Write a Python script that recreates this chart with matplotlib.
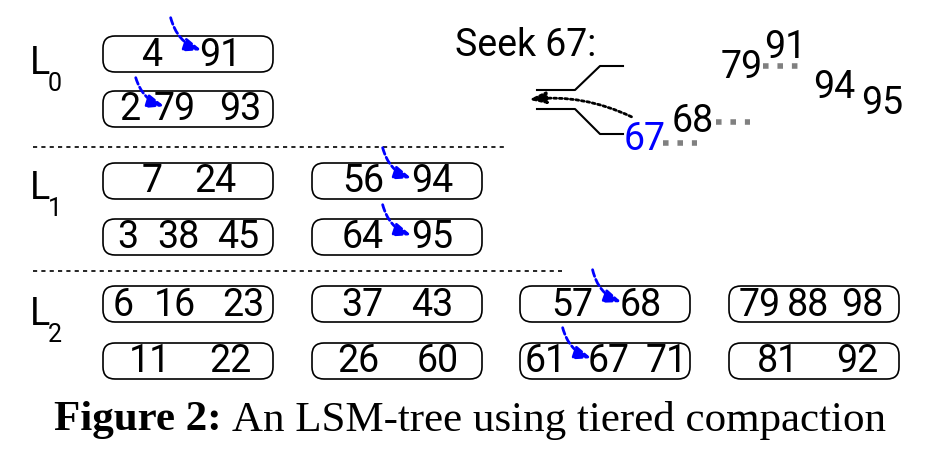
import matplotlib
matplotlib.use("Agg")
import matplotlib.pyplot as plt
from matplotlib.patches import FancyBboxPatch

run_keys = [
    ["4", "91"], ["2", "79", "93"],
    ["7", "24"], ["3", "38", "45"], ["56", "94"], ["64", "95"],
    ["6", "16", "23"], ["11", "22"], ["37", "43"], ["26", "60"],
    ["57", "68"], ["61", "67", "71"], ["79", "88", "98"], ["81", "92"],
]
run_box = [(0, 0), (0, 1), (0, 2), (0, 3), (1, 2), (1, 3),
           (0, 4), (0, 5), (1, 4), (1, 5), (2, 4), (2, 5), (3, 4), (3, 5)]
key_x = [[152, 220], [130, 175, 240], [152, 215], [128, 178, 238], [363, 432], [363, 432],
         [123, 175, 243], [150, 230], [362, 432], [358, 438], [572, 641], [546, 609, 667],
         [760, 808, 862], [778, 857]]
box_left = [103, 312, 520, 729]
row_top = [36, 91, 163, 219, 286, 343]
level_labels = ["0", "1", "2"]
level_y = [82, 207, 333]

fig = plt.figure(figsize=(9.53, 4.5), dpi=100)
ax = fig.add_axes([0, 0, 1, 1])
ax.set_xlim(0, 953); ax.set_ylim(450, 0); ax.axis("off")
F = "Roboto"; FS = 27

for keys, (c, r), xs in zip(run_keys, run_box, key_x):
    ax.add_patch(FancyBboxPatch((box_left[c], row_top[r]), 170, 36,
                                boxstyle="round,pad=0,rounding_size=12",
                                fc="none", ec="black", lw=1.2))
    for k, x in zip(keys, xs):
        ax.text(x, row_top[r] + 19, k, ha="center", va="center", fontsize=FS, family=F)

for lab, y in zip(level_labels, level_y):
    ax.text(30, y, "L", ha="left", va="bottom", fontsize=FS, family=F)
    ax.text(48, y + 14, lab, ha="left", va="bottom", fontsize=18, family=F)

ax.plot([33, 508], [147, 147], ls=(0, (2.5, 2.5)), color="black", lw=1.2)
ax.plot([33, 562], [271, 271], ls=(0, (2.5, 2.5)), color="black", lw=1.2)

arrows = [((170, 15), (204, 51)), ((135, 75), (167, 107)), ((382, 145), (414, 179)),
          ((382, 202), (414, 236)), ((592, 267), (624, 303)), ((562, 325), (594, 359))]
for s, e in arrows:
    ax.annotate("", xy=e, xytext=s,
                arrowprops=dict(arrowstyle="-|>,head_length=1.0,head_width=0.4", color="blue",
                                ls=(0, (2.5, 1.2)), lw=2, connectionstyle="arc3,rad=0.3"))

ax.text(455, 45, "Seek 67:", ha="left", va="center", fontsize=FS, family=F)
ax.plot([537, 575, 600, 623], [90, 90, 66, 66], color="black", lw=1.5)
ax.plot([537, 575, 600, 623], [109, 109, 134, 134], color="black", lw=1.5)
ax.annotate("", xy=(526, 100), xytext=(634, 118),
            arrowprops=dict(arrowstyle="-|>,head_length=1.0,head_width=0.35", color="black",
                            ls=(0, (1, 1)), lw=2, connectionstyle="arc3,rad=0.15"))

merge_keys = ["67", "68", "79", "91", "94", "95"]
merge_pos = [(645, 140), (693, 122), (742, 67), (785, 48), (834, 87), (882, 104)]
merge_col = ["blue", "black", "black", "black", "black", "black"]
for k, (x, y), c in zip(merge_keys, merge_pos, merge_col):
    ax.text(x, y, k, ha="center", va="center", fontsize=FS, family=F, color=c)
for xs, y in [((663, 697), 143), ((716, 750), 122), ((763, 800), 66)]:
    ax.plot(xs, [y, y], color="gray", lw=4, ls=(0, (1, 1.6)))

t1 = ax.text(54, 420, "Figure 2:", ha="left", va="center", fontsize=31,
             family="Liberation Serif", weight="bold")
fig.canvas.draw()
bb = t1.get_window_extent()
x_end = ax.transData.inverted().transform((bb.x1, bb.y0))[0]
ax.text(x_end + 10, 420, "An LSM-tree using tiered compaction", ha="left", va="center",
        fontsize=31, family="Liberation Serif")

fig.savefig("out.png", dpi=100)
